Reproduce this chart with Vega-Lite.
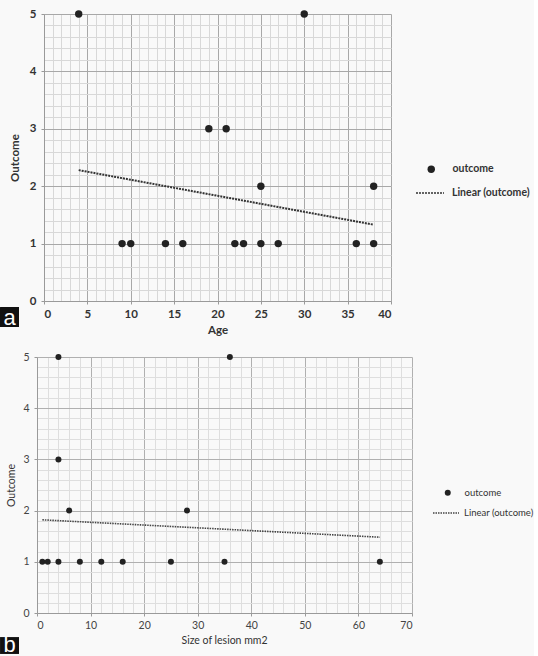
{
  "$schema": "https://vega.github.io/schema/vega-lite/v6.json",
  "background": "#f9f9f9",
  "padding": {"left": 0, "top": 8, "right": 0, "bottom": 0},
  "config": {"view": {"stroke": null}},
  "datasets": {
    "ageOutcome": [
      {"Age": 4, "Outcome": 5, "pointSeries": "outcome"},
      {"Age": 30, "Outcome": 5, "pointSeries": "outcome"},
      {"Age": 19, "Outcome": 3, "pointSeries": "outcome"},
      {"Age": 21, "Outcome": 3, "pointSeries": "outcome"},
      {"Age": 25, "Outcome": 2, "pointSeries": "outcome"},
      {"Age": 38, "Outcome": 2, "pointSeries": "outcome"},
      {"Age": 9, "Outcome": 1, "pointSeries": "outcome"},
      {"Age": 10, "Outcome": 1, "pointSeries": "outcome"},
      {"Age": 14, "Outcome": 1, "pointSeries": "outcome"},
      {"Age": 16, "Outcome": 1, "pointSeries": "outcome"},
      {"Age": 22, "Outcome": 1, "pointSeries": "outcome"},
      {"Age": 23, "Outcome": 1, "pointSeries": "outcome"},
      {"Age": 25, "Outcome": 1, "pointSeries": "outcome"},
      {"Age": 27, "Outcome": 1, "pointSeries": "outcome"},
      {"Age": 36, "Outcome": 1, "pointSeries": "outcome"},
      {"Age": 38, "Outcome": 1, "pointSeries": "outcome"}
    ],
    "ageTrend": [
      {"Age": 4, "Outcome": 2.28, "lineSeries": "Linear (outcome)"},
      {"Age": 38, "Outcome": 1.33, "lineSeries": "Linear (outcome)"}
    ],
    "sizeOutcome": [
      {"Size": 1, "Outcome": 1, "pointSeries": "outcome"},
      {"Size": 2, "Outcome": 1, "pointSeries": "outcome"},
      {"Size": 4, "Outcome": 1, "pointSeries": "outcome"},
      {"Size": 8, "Outcome": 1, "pointSeries": "outcome"},
      {"Size": 12, "Outcome": 1, "pointSeries": "outcome"},
      {"Size": 16, "Outcome": 1, "pointSeries": "outcome"},
      {"Size": 25, "Outcome": 1, "pointSeries": "outcome"},
      {"Size": 35, "Outcome": 1, "pointSeries": "outcome"},
      {"Size": 64, "Outcome": 1, "pointSeries": "outcome"},
      {"Size": 6, "Outcome": 2, "pointSeries": "outcome"},
      {"Size": 28, "Outcome": 2, "pointSeries": "outcome"},
      {"Size": 4, "Outcome": 3, "pointSeries": "outcome"},
      {"Size": 4, "Outcome": 5, "pointSeries": "outcome"},
      {"Size": 36, "Outcome": 5, "pointSeries": "outcome"}
    ],
    "sizeTrend": [
      {"Size": 1, "Outcome": 1.82, "lineSeries": "Linear (outcome)"},
      {"Size": 64, "Outcome": 1.48, "lineSeries": "Linear (outcome)"}
    ],
    "labelA": [{"label": "a"}],
    "labelB": [{"label": "b"}]
  },
  "resolve": {"scale": {"shape": "independent", "strokeDash": "independent"}},
  "spacing": 16,
  "vconcat": [
    {
      "width": 347,
      "height": 287,
      "resolve": {"axis": {"x": "independent", "y": "independent"}},
      "layer": [
        {
          "data": {"name": "ageOutcome"},
          "mark": {"type": "point", "filled": true, "color": "#222", "opacity": 1, "size": 55},
          "encoding": {
            "x": {"field": "Age", "type": "quantitative",
              "scale": {"domain": [0, 40], "nice": false, "zero": false},
              "axis": {"orient": "bottom", "values": [0,1,2,3,4,5,6,7,8,9,10,11,12,13,14,15,16,17,18,19,20,21,22,23,24,25,26,27,28,29,30,31,32,33,34,35,36,37,38,39,40],
                "grid": true, "gridColor": "#d8d8d8", "labels": false, "ticks": false, "domain": false, "title": null}},
            "y": {"field": "Outcome", "type": "quantitative",
              "scale": {"domain": [0, 5], "nice": false},
              "axis": {"orient": "left", "values": [0,0.2,0.4,0.6,0.8,1,1.2,1.4,1.6,1.8,2,2.2,2.4,2.6,2.8,3,3.2,3.4,3.6,3.8,4,4.2,4.4,4.6,4.8,5],
                "grid": true, "gridColor": "#d8d8d8", "labels": false, "ticks": false, "domain": false, "title": null}},
            "shape": {"field": "pointSeries", "type": "nominal",
              "scale": {"domain": ["outcome"], "range": ["circle"]},
              "legend": {"title": null, "orient": "none", "legendX": 382, "legendY": 150, "padding": 0,
                "symbolSize": 55, "symbolFillColor": "#222", "symbolStrokeColor": "#222", "symbolStrokeWidth": 0,
                "labelFont": "Lato", "labelFontSize": 10.5, "labelFontWeight": "bold", "labelColor": "#333", "labelOffset": 16}}
          }
        },
        {
          "data": {"name": "ageTrend"},
          "mark": {"type": "line", "color": "#333", "strokeWidth": 2},
          "encoding": {
            "x": {"field": "Age", "type": "quantitative",
              "scale": {"domain": [0, 40], "nice": false, "zero": false},
              "axis": {"orient": "bottom", "values": [0,5,10,15,20,25,30,35,40],
                "grid": true, "gridColor": "#a8a8a8", "domainColor": "#9a9a9a", "tickColor": "#9a9a9a", "tickSize": 3,
                "labelFont": "Lato", "labelFontSize": 11.5, "labelFontWeight": "bold", "labelColor": "#333", "labelPadding": 4,
                "title": "Age", "titleFont": "Lato", "titleFontSize": 11.5, "titleFontWeight": "bold", "titleColor": "#333", "titlePadding": 5}},
            "y": {"field": "Outcome", "type": "quantitative",
              "scale": {"domain": [0, 5], "nice": false},
              "axis": {"orient": "left", "values": [0,1,2,3,4,5],
                "grid": true, "gridColor": "#a8a8a8", "domainColor": "#9a9a9a", "tickColor": "#9a9a9a", "tickSize": 3,
                "labelFont": "Lato", "labelFontSize": 11.5, "labelFontWeight": "bold", "labelColor": "#333", "labelPadding": 5,
                "title": "Outcome", "titleFont": "Lato", "titleFontSize": 11.5, "titleFontWeight": "bold", "titleColor": "#333", "titlePadding": 9}},
            "strokeDash": {"field": "lineSeries", "type": "nominal",
              "scale": {"domain": ["Linear (outcome)"], "range": [[2, 1]]},
              "legend": {"title": null, "orient": "none", "legendX": 371, "legendY": 164, "padding": 0,
                "symbolType": "stroke", "symbolSize": 784, "symbolStrokeWidth": 1.5, "symbolStrokeColor": "#333",
                "labelFont": "Lato", "labelFontSize": 10.5, "labelFontWeight": "bold", "labelColor": "#333", "labelOffset": 7}}
          }
        },
        {
          "data": {"name": "labelA"},
          "mark": {"type": "rect", "color": "#111"},
          "encoding": {
            "x": {"datum": -5.07, "type": "quantitative", "scale": {"domain": [0, 40], "nice": false, "zero": false}, "axis": null},
            "x2": {"datum": -2.88},
            "y": {"datum": -0.105, "type": "quantitative", "scale": {"domain": [0, 5], "nice": false}, "axis": null},
            "y2": {"datum": -0.453}
          }
        },
        {
          "data": {"name": "labelA"},
          "mark": {"type": "text", "color": "white", "font": "Liberation Sans", "fontSize": 22, "baseline": "middle", "align": "center"},
          "encoding": {
            "x": {"datum": -3.97, "type": "quantitative", "scale": {"domain": [0, 40], "nice": false, "zero": false}, "axis": null},
            "y": {"datum": -0.29, "type": "quantitative", "scale": {"domain": [0, 5], "nice": false}, "axis": null},
            "text": {"field": "label", "type": "nominal"}
          }
        }
      ]
    },
    {
      "width": 368,
      "height": 256,
      "resolve": {"axis": {"x": "independent", "y": "independent"}},
      "layer": [
        {
          "data": {"name": "sizeOutcome"},
          "mark": {"type": "point", "filled": true, "color": "#222", "opacity": 1, "size": 36},
          "encoding": {
            "x": {"field": "Size", "type": "quantitative",
              "scale": {"domain": [0, 70], "nice": false, "zero": false, "rangeMin": -7},
              "axis": {"orient": "bottom", "values": [0,2,4,6,8,10,12,14,16,18,20,22,24,26,28,30,32,34,36,38,40,42,44,46,48,50,52,54,56,58,60,62,64,66,68,70],
                "grid": true, "gridColor": "#dedede", "labels": false, "ticks": false, "domain": false, "title": null}},
            "y": {"field": "Outcome", "type": "quantitative",
              "scale": {"domain": [0, 5], "nice": false},
              "axis": {"orient": "left", "offset": 7, "values": [0,0.2,0.4,0.6,0.8,1,1.2,1.4,1.6,1.8,2,2.2,2.4,2.6,2.8,3,3.2,3.4,3.6,3.8,4,4.2,4.4,4.6,4.8,5],
                "grid": true, "gridColor": "#dedede", "labels": false, "ticks": false, "domain": false, "title": null}},
            "shape": {"field": "pointSeries", "type": "nominal",
              "scale": {"domain": ["outcome"], "range": ["circle"]},
              "legend": {"title": null, "orient": "none", "legendX": 399, "legendY": 131, "padding": 0,
                "symbolSize": 36, "symbolFillColor": "#222", "symbolStrokeColor": "#222", "symbolStrokeWidth": 0,
                "labelFont": "Lato", "labelFontSize": 9.5, "labelColor": "#333", "labelOffset": 12}}
          }
        },
        {
          "data": {"name": "sizeTrend"},
          "mark": {"type": "line", "color": "#444", "strokeWidth": 1.6},
          "encoding": {
            "x": {"field": "Size", "type": "quantitative",
              "scale": {"domain": [0, 70], "nice": false, "zero": false, "rangeMin": -7},
              "axis": {"orient": "bottom", "values": [0,10,20,30,40,50,60,70],
                "grid": true, "gridColor": "#b0b0b0", "domainColor": "#9a9a9a", "tickColor": "#9a9a9a", "tickSize": 3,
                "labelFont": "Lato", "labelFontSize": 10.5, "labelColor": "#444", "labelPadding": 4,
                "title": "Size of lesion mm2", "titleFont": "Lato", "titleFontSize": 10.5, "titleFontWeight": "normal", "titleColor": "#333", "titlePadding": 5, "titleX": 180}},
            "y": {"field": "Outcome", "type": "quantitative",
              "scale": {"domain": [0, 5], "nice": false},
              "axis": {"orient": "left", "offset": 7, "values": [0,1,2,3,4,5],
                "grid": true, "gridColor": "#b0b0b0", "domainColor": "#9a9a9a", "tickColor": "#9a9a9a", "tickSize": 3,
                "labelFont": "Lato", "labelFontSize": 10.5, "labelColor": "#444", "labelPadding": 5,
                "title": "Outcome", "titleFont": "Lato", "titleFontSize": 10.5, "titleFontWeight": "normal", "titleColor": "#333", "titlePadding": 6}},
            "strokeDash": {"field": "lineSeries", "type": "nominal",
              "scale": {"domain": ["Linear (outcome)"], "range": [[1.5, 1]]},
              "legend": {"title": null, "orient": "none", "legendX": 388, "legendY": 142, "padding": 0,
                "symbolType": "stroke", "symbolSize": 676, "symbolStrokeWidth": 1.3, "symbolStrokeColor": "#444",
                "labelFont": "Lato", "labelFontSize": 9.5, "labelColor": "#333", "labelOffset": 4}}
          }
        },
        {
          "data": {"name": "labelB"},
          "mark": {"type": "rect", "color": "#111"},
          "encoding": {
            "x": {"datum": -6.9, "type": "quantitative", "scale": {"domain": [0, 70], "nice": false, "zero": false, "rangeMin": -7}, "axis": null},
            "x2": {"datum": -3.36},
            "y": {"datum": -0.47, "type": "quantitative", "scale": {"domain": [0, 5], "nice": false}, "axis": null},
            "y2": {"datum": -0.8}
          }
        },
        {
          "data": {"name": "labelB"},
          "mark": {"type": "text", "color": "white", "font": "Liberation Sans", "fontSize": 22, "baseline": "middle", "align": "center"},
          "encoding": {
            "x": {"datum": -5.13, "type": "quantitative", "scale": {"domain": [0, 70], "nice": false, "zero": false, "rangeMin": -7}, "axis": null},
            "y": {"datum": -0.62, "type": "quantitative", "scale": {"domain": [0, 5], "nice": false}, "axis": null},
            "text": {"field": "label", "type": "nominal"}
          }
        }
      ]
    }
  ]
}
